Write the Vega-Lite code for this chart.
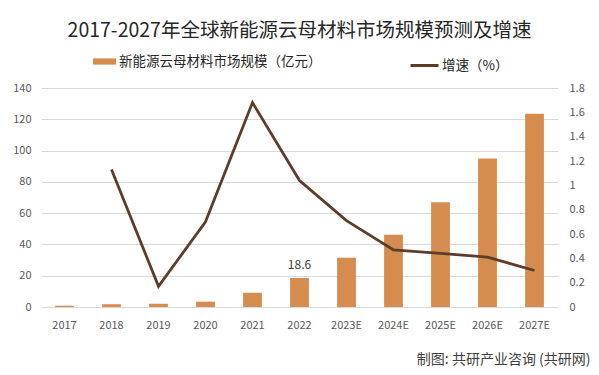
{
  "$schema": "https://vega.github.io/schema/vega-lite/v6.json",
  "autosize": {"type": "none"},
  "width": 517,
  "height": 219,
  "padding": {"left": 41, "top": 88, "right": 41, "bottom": 68},
  "background": "white",
  "config": {
    "view": {"stroke": null},
    "font": "Noto Sans CJK SC",
    "axis": {"labelFont": "Noto Sans CJK SC", "labelColor": "#595959", "labelFontSize": 11}
  },
  "title": {
    "text": "2017-2027年全球新能源云母材料市场规模预测及增速",
    "fontSize": 19.5,
    "fontWeight": "normal",
    "color": "#262626",
    "font": "Noto Sans CJK SC",
    "anchor": "middle",
    "offset": 9
  },
  "data": {
    "values": [
      {"year": "2017", "scale": 0.8, "growth": null},
      {"year": "2018", "scale": 1.7, "growth": 1.13},
      {"year": "2019", "scale": 2.0, "growth": 0.17},
      {"year": "2020", "scale": 3.4, "growth": 0.70},
      {"year": "2021", "scale": 9.1, "growth": 1.68},
      {"year": "2022", "scale": 18.6, "growth": 1.04},
      {"year": "2023E", "scale": 31.5, "growth": 0.71},
      {"year": "2024E", "scale": 46.2, "growth": 0.47},
      {"year": "2025E", "scale": 67.0, "growth": 0.44},
      {"year": "2026E", "scale": 95.0, "growth": 0.41},
      {"year": "2027E", "scale": 123.5, "growth": 0.30}
    ]
  },
  "encoding": {
    "x": {
      "field": "year", "type": "nominal", "sort": null,
      "scale": {"paddingInner": 0.6, "paddingOuter": 0.3},
      "axis": {
        "labelAngle": 0, "domain": false, "ticks": false, "labelPadding": 12, "grid": false,
        "title": "制图: 共研产业咨询 (共研网)",
        "titleFont": "Noto Sans CJK SC", "titleFontSize": 14, "titleFontWeight": "normal",
        "titleColor": "#404040", "titleAlign": "right", "titleAnchor": "end",
        "titleX": 549, "titleY": 52, "titleBaseline": "middle"
      }
    }
  },
  "layer": [
    {
      "mark": {"type": "bar"},
      "encoding": {
        "y": {
          "field": "scale", "type": "quantitative",
          "scale": {"domain": [0, 140]},
          "axis": {
            "values": [0, 20, 40, 60, 80, 100, 120, 140], "title": null, "domain": false, "ticks": false,
            "labelPadding": 10, "gridColor": "#d9d9d9", "gridWidth": 1
          }
        },
        "fill": {
          "datum": "新能源云母材料市场规模（亿元）",
          "scale": {"range": ["#D58C4E"]},
          "legend": {
            "orient": "none", "legendX": 52, "legendY": -38, "title": null,
            "symbolType": "M-1,-0.27H1V0.27H-1Z", "symbolSize": 529, "symbolStrokeWidth": 0,
            "labelFontSize": 13.5, "labelColor": "#262626", "labelOffset": 3, "labelLimit": 400,
            "labelFont": "Noto Sans CJK SC"
          }
        }
      }
    },
    {
      "transform": [{"filter": "datum.year == '2022'"}],
      "mark": {"type": "text", "baseline": "bottom", "dy": -6, "fontSize": 12, "color": "#404040", "font": "Noto Sans CJK SC"},
      "encoding": {
        "y": {"field": "scale", "type": "quantitative", "scale": {"domain": [0, 140]}, "axis": null},
        "text": {"field": "scale", "type": "quantitative", "format": ".1f"}
      }
    },
    {
      "transform": [{"filter": "datum.growth != null"}],
      "mark": {"type": "line", "strokeWidth": 2.8},
      "encoding": {
        "y": {
          "field": "growth", "type": "quantitative",
          "scale": {"domain": [0, 1.8]},
          "axis": {
            "orient": "right", "values": [0, 0.2, 0.4, 0.6, 0.8, 1, 1.2, 1.4, 1.6, 1.8],
            "format": ".2~f", "title": null, "domain": false, "ticks": false, "grid": false,
            "labelPadding": 11
          }
        },
        "stroke": {
          "datum": "增速（%）",
          "scale": {"range": ["#5C3D2A"]},
          "legend": {
            "orient": "none", "legendX": 368, "legendY": -38, "title": null,
            "symbolType": "stroke", "symbolSize": 784, "symbolStrokeWidth": 3,
            "labelFontSize": 13.5, "labelColor": "#262626", "labelOffset": 2, "labelLimit": 400,
            "labelFont": "Noto Sans CJK SC"
          }
        }
      }
    }
  ],
  "resolve": {"scale": {"y": "independent", "fill": "independent", "stroke": "independent"}}
}
